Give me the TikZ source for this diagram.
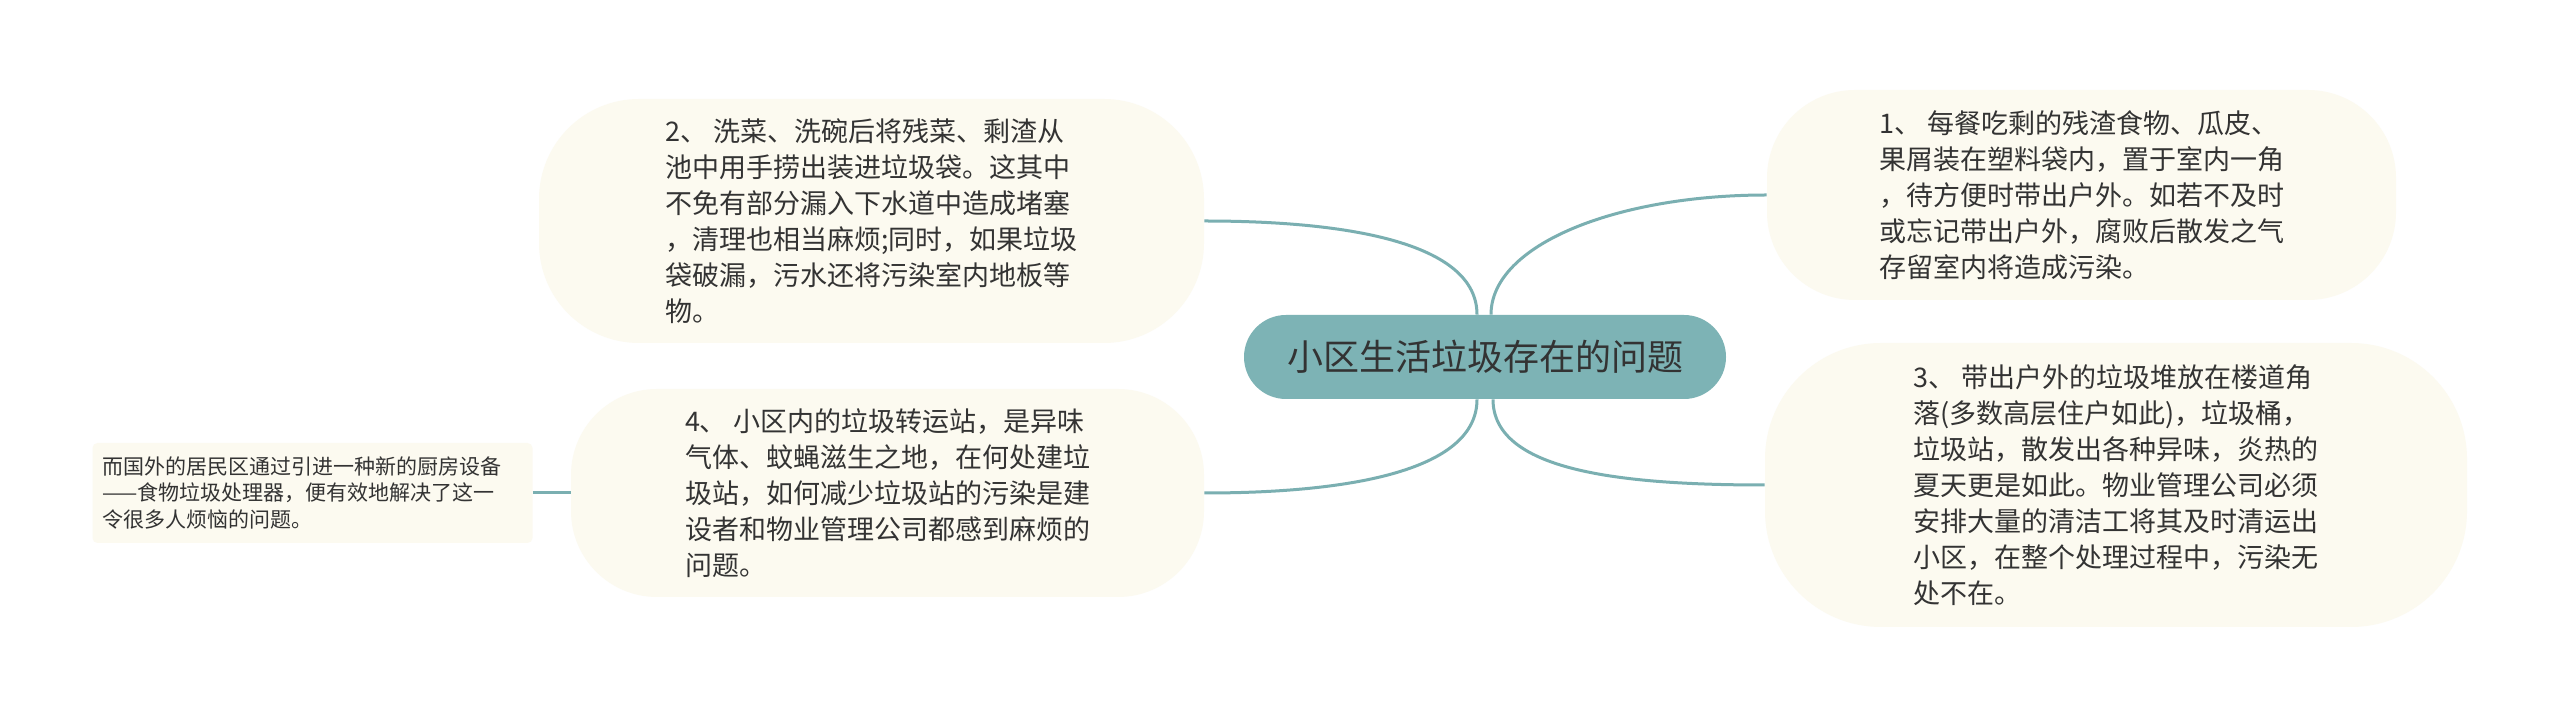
\documentclass[tikz,border=0pt]{standalone}
\usepackage{fontspec}
\newfontfamily\cjk{Noto Sans CJK SC}
\definecolor{leafcream}{HTML}{FCFAF0}
\definecolor{mainteal}{HTML}{7DB3B5}
\definecolor{linkteal}{HTML}{7AAFB1}
\definecolor{txtgray}{HTML}{333333}
\begin{document}
\begin{tikzpicture}[x=0.5pt,y=-0.5pt,
  leaf/.style={fill=leafcream, align=left, text=txtgray, inner sep=0pt,
    font=\cjk\fontsize{13.5}{18}\selectfont},
  mainnode/.style={fill=mainteal, rounded corners=21pt, minimum width=241pt,
    minimum height=42pt, inner sep=0pt, text=txtgray,
    font=\cjk\fontsize{18}{22}\selectfont},
  smallnode/.style={fill=leafcream, rounded corners=2.5pt, align=left, text=txtgray,
    text width=210pt, inner xsep=5pt, minimum height=50pt,
    font=\cjk\fontsize{10.5}{13.2}\selectfont},
  link/.style={draw=linkteal, line width=1.5pt}]
\useasboundingbox (0,0) rectangle (2560,715);
\fill[white] (0,0) rectangle (2560,715);

\node[mainnode] (c) at (1485,357) {小区生活垃圾存在的问题};

\node[leaf, rounded corners=44pt, minimum width=314.5pt, minimum height=105pt] (n1) at (2081.5,195)
 {1、 每餐吃剩的残渣食物、瓜皮、\\果屑装在塑料袋内，置于室内一角\\，待方便时带出户外。如若不及时\\或忘记带出户外，腐败后散发之气\\存留室内将造成污染。};

\node[leaf, rounded corners=50pt, minimum width=332.5pt, minimum height=122pt] (n2) at (871.5,221)
 {2、 洗菜、洗碗后将残菜、剩渣从\\池中用手捞出装进垃圾袋。这其中\\不免有部分漏入下水道中造成堵塞\\，清理也相当麻烦;同时，如果垃圾\\袋破漏，污水还将污染室内地板等\\物。};

\node[leaf, rounded corners=58pt, minimum width=351pt, minimum height=142pt] (n3) at (2116,485)
 {3、 带出户外的垃圾堆放在楼道角\\落(多数高层住户如此)，垃圾桶，\\垃圾站，散发出各种异味，炎热的\\夏天更是如此。物业管理公司必须\\安排大量的清洁工将其及时清运出\\小区，在整个处理过程中，污染无\\处不在。};

\node[leaf, rounded corners=43pt, minimum width=316.5pt, minimum height=104pt] (n4) at (887.5,493)
 {4、 小区内的垃圾转运站，是异味\\气体、蚊蝇滋生之地，在何处建垃\\圾站，如何减少垃圾站的污染是建\\设者和物业管理公司都感到麻烦的\\问题。};

\node[smallnode] (s) at (312.5,493)
 {而国外的居民区通过引进一种新的厨房设备\\——食物垃圾处理器，便有效地解决了这一\\令很多人烦恼的问题。};

\draw[link] ([xshift=-4pt]c.north) .. controls +(0,-70) and +(150,0) .. (n2.east);
\draw[link] ([xshift=3pt]c.north) .. controls +(0,-70) and +(-150,0) .. (n1.west);
\draw[link] ([xshift=-4pt]c.south) .. controls +(0,70) and +(150,0) .. (n4.east);
\draw[link] ([xshift=4pt]c.south) .. controls +(0,70) and +(-150,0) .. (n3.west);
\draw[link] (s.east) -- (n4.west);
\end{tikzpicture}
\end{document}
